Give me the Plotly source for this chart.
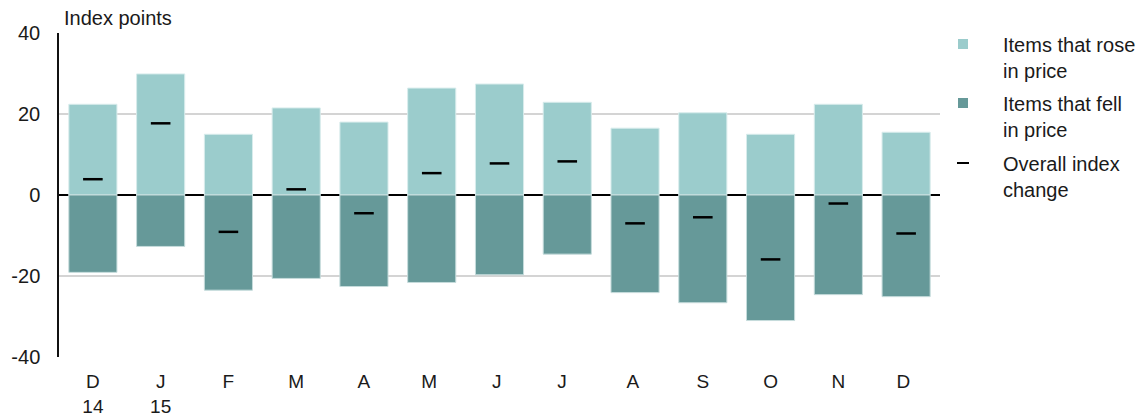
import plotly.graph_objects as go

categories = ["D<br>14", "J<br>15", "F", "M", "A", "M ", "J ", "J  ", "A ", "S", "O", "N", "D "]
rose = [22.4, 29.9, 15.0, 21.5, 18.0, 26.4, 27.4, 22.9, 16.5, 20.3, 15.0, 22.4, 15.5]
fell = [-19.1, -12.7, -23.5, -20.6, -22.6, -21.6, -19.7, -14.6, -24.1, -26.6, -31.0, -24.6, -25.1]
overall = [3.9, 17.7, -9.1, 1.4, -4.5, 5.4, 7.8, 8.3, -7.0, -5.5, -15.9, -2.1, -9.5]
y_ticks = [-40, -20, 0, 20, 40]
y_tick_text = ["-40", "-20", "0", "20", "40"]

ROSE_C = "#9BCCCC"
FELL_C = "#669999"
FONT = "Liberation Sans, Arial, sans-serif"
FS = 20
TXT = "#1a1a1a"

W, H = 1147, 417
ML, MR, MT, MB = 59, 207, 33, 60
PW = W - ML - MR
PH = H - MT - MB

def px_x(p):
    return (p - ML) / PW

def px_y(p):
    return 1 - (p - MT) / PH

fig = go.Figure()
fig.add_trace(go.Bar(x=categories, y=rose, marker=dict(color=ROSE_C, line=dict(color="#d8ecec", width=1)),
                     name="Items that rose in price", showlegend=False))
fig.add_trace(go.Bar(x=categories, y=fell, marker=dict(color=FELL_C, line=dict(color="#c6dcdc", width=1)),
                     name="Items that fell in price", showlegend=False))
fig.add_trace(go.Scatter(x=categories, y=overall, mode="markers",
                         marker=dict(symbol="line-ew", size=14, line=dict(color="black", width=2.5)),
                         name="Overall index change", showlegend=False))

fig.update_layout(
    width=W, height=H,
    margin=dict(l=ML, r=MR, t=MT, b=MB, autoexpand=False),
    paper_bgcolor="white", plot_bgcolor="white",
    barmode="relative", bargap=0.29,
    font=dict(family=FONT, size=FS, color=TXT),
    xaxis=dict(type="category", categoryorder="array", categoryarray=categories, automargin=False,
               range=[-0.5, len(categories) - 0.5],
               showgrid=False, showline=False, ticks="", tickfont=dict(size=19, color=TXT),
               ticklabelstandoff=11),
    yaxis=dict(range=[-40, 40], tickvals=y_ticks, ticktext=y_tick_text, automargin=False,
               showgrid=True, gridcolor="#d4d4d4", gridwidth=1.5,
               zeroline=True, zerolinecolor="black", zerolinewidth=1.5,
               showline=True, linecolor="#111111", linewidth=1.5, ticks="",
               ticklabelstandoff=13, tickfont=dict(size=FS, color=TXT)),
)

annotations = [dict(text="Index points", xref="paper", yref="paper", x=px_x(62), y=px_y(18),
                    xanchor="left", yanchor="middle", showarrow=False, font=dict(size=FS))]
shapes = []
legend_items = [
    ("Items that rose<br>in price", 44, "sq", ROSE_C),
    ("Items that fell<br>in price", 103, "sq", FELL_C),
    ("Overall index<br>change", 163, "line", "black"),
]
for text, yc, kind, col in legend_items:
    annotations.append(dict(text=text, xref="paper", yref="paper", x=px_x(1001), y=px_y(yc - 12),
                            xanchor="left", yanchor="top", align="left", showarrow=False,
                            font=dict(size=FS)))
    if kind == "sq":
        shapes.append(dict(type="rect", xref="paper", yref="paper", x0=px_x(958), x1=px_x(968),
                           y0=px_y(yc - 5), y1=px_y(yc + 5), fillcolor=col, line=dict(width=0)))
    else:
        shapes.append(dict(type="line", xref="paper", yref="paper", x0=px_x(957), x1=px_x(969),
                           y0=px_y(yc), y1=px_y(yc), line=dict(color=col, width=2)))
fig.update_layout(annotations=annotations, shapes=shapes)

fig.write_html("out.html", config={"displayModeBar": False},
               post_script="document.body.style.margin='0';document.body.style.overflow='hidden';")
